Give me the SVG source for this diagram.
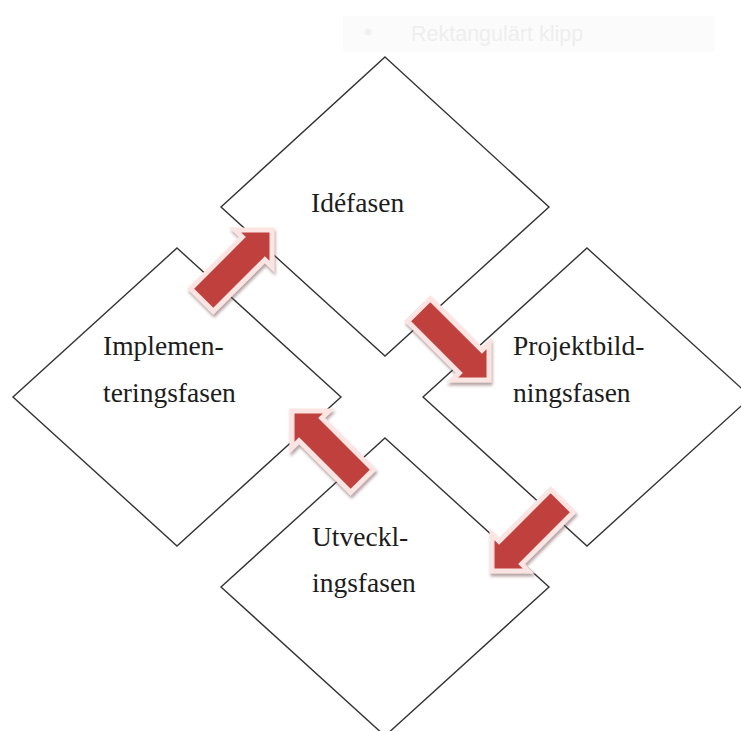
<svg xmlns="http://www.w3.org/2000/svg" width="741" height="731" viewBox="0 0 741 731">
  <defs>
    <style>
      .dia { fill: #ffffff; stroke: #333333; stroke-width: 1.4; }
      .lbl { font-family: "Liberation Serif", "Times New Roman", serif; font-size: 27.5px; fill: #1c1c1c; }
      .arr { fill: #c0403e; stroke: #fbe4e2; stroke-width: 5; stroke-linejoin: miter; }
      .faint { font-family: "Liberation Sans", Arial, sans-serif; font-size: 21.5px; fill: #eeeeee; }
    </style>
    <filter id="sh" x="-30%" y="-30%" width="160%" height="160%">
      <feDropShadow dx="1" dy="3" stdDeviation="1.5" flood-color="#7a5a5a" flood-opacity="0.55"/>
    </filter>
    <path id="blk" d="M0,0 L-26,-26 L-26,-16 L-99,-16 L-99,16 L-26,16 L-26,26 Z"/>
  </defs>
  <rect x="0" y="0" width="741" height="731" fill="#ffffff"/>

  <g id="hint">
    <rect x="343" y="16" width="372" height="36" fill="#fbfbfb"/>
    <circle cx="368" cy="32" r="3.5" fill="#efefef"/>
    <text class="faint" x="411" y="41">Rektangulärt klipp</text>
  </g>

  <g id="node-idefasen">
    <polygon class="dia" points="385,57 549,207 385,356 221,207"/>
    <text class="lbl" x="311" y="212">Idéfasen</text>
  </g>
  <g id="node-implementeringsfasen">
    <polygon class="dia" points="177,248 341,397 177,546 13,397"/>
    <text class="lbl" x="103" y="355">Implemen-</text>
    <text class="lbl" x="103" y="402">teringsfasen</text>
  </g>
  <g id="node-projektbildningsfasen">
    <polygon class="dia" points="587,248 751,397 587,546 423,397"/>
    <text class="lbl" x="513" y="355">Projektbild-</text>
    <text class="lbl" x="513" y="402">ningsfasen</text>
  </g>
  <g id="node-utvecklingsfasen">
    <polygon class="dia" points="385,438 549,587 385,736 221,587"/>
    <text class="lbl" x="312" y="546">Utveckl-</text>
    <text class="lbl" x="312" y="592">ingsfasen</text>
  </g>

  <g id="connectors">
    <g filter="url(#sh)"><use href="#blk" class="arr" transform="translate(272,230) rotate(-45)"/></g>
    <g filter="url(#sh)"><use href="#blk" class="arr" transform="translate(489,380) rotate(45)"/></g>
    <g filter="url(#sh)"><use href="#blk" class="arr" transform="translate(492,571) rotate(135)"/></g>
    <g filter="url(#sh)"><use href="#blk" class="arr" transform="translate(292,411) rotate(-135)"/></g>
  </g>
</svg>
